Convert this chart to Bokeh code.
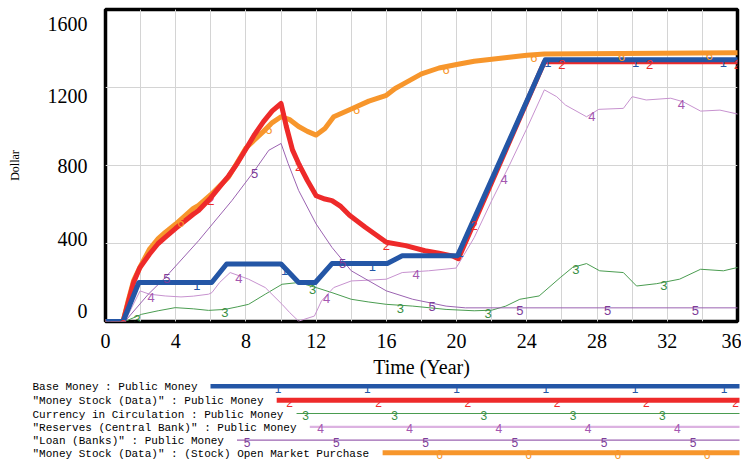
import numpy as np
from bokeh.plotting import figure
from bokeh.models import Range1d, FixedTicker
from bokeh.embed import file_html
from bokeh.resources import INLINE
from bokeh.core.properties import value

# ---------------- data ----------------
t_base = [0, 1.0, 1.9, 6.05, 6.9, 10.0, 11.0, 11.95, 12.9, 16.05, 16.9, 20.05, 25.05, 36]
base_money = [0, 0, 200, 200, 295, 295, 200, 200, 297, 297, 337, 337, 1342, 1342]

t_stock = [0, 1.0, 1.3, 1.6, 1.95, 2.5, 3.0, 3.4, 4.0, 5.0, 5.3, 6.0, 6.5, 7.0, 7.5, 8.0,
           8.5, 9.0, 9.5, 10.0, 10.3, 10.65, 11.0, 11.5, 12.0, 12.5, 12.9, 13.4, 13.9,
           14.8, 16.0, 17.1, 18.2, 19.0, 19.8, 20.1, 25.0, 36]
money_stock = [0, 0, 100, 200, 275, 345, 400, 431, 478, 550, 569, 635, 690, 745, 810, 885,
               960, 1025, 1080, 1118, 1000, 880, 810, 723, 645, 628, 620, 590, 545,
               483, 406, 389, 363, 350, 335, 322, 1332, 1332]

t_curr = [0, 1.1, 2.06, 3.0, 3.97, 5.0, 5.87, 6.8, 7.5, 8.15, 9.1, 10.06, 11.0, 12.0, 12.9,
          14.0, 15.0, 16.0, 17.5, 19.4, 21.0, 22.0, 22.8, 23.6, 24.7, 25.9, 26.6, 27.4,
          28.15, 29.5, 30.25, 31.4, 32.7, 33.9, 35.2, 36]
currency = [0, 0, 37, 55, 71, 65, 57, 62, 75, 88, 140, 191, 200, 174, 148,
            114, 100, 88, 79, 62, 55, 58, 79, 114, 131, 225, 277, 297,
            260, 251, 182, 194, 217, 268, 260, 277]

t_res = [0, 1.1, 1.97, 2.5, 3.4, 4.3, 5.0, 5.87, 6.06, 6.5, 7.1, 7.6, 8.15, 9.1, 10.06,
         10.5, 11.0, 11.9, 12.3, 13.0, 14.0, 15.0, 16.0, 16.9, 18.4, 19.97, 21.0, 22.0,
         23.0, 24.0, 25.0, 25.7, 26.2, 27.4, 28.1, 29.5, 30.0, 30.8, 32.2, 32.9, 33.9,
         35.0, 36]
reserves = [0, 0, 157, 140, 131, 126, 130, 140, 148, 200, 251, 235, 217, 174, 88,
            45, 2, 28, 105, 174, 208, 212, 217, 251, 260, 274, 430, 620,
            800, 990, 1188, 1153, 1110, 1050, 1088, 1093, 1153, 1136, 1145, 1127, 1079,
            1084, 1064]

t_loan = [0, 1.1, 2.44, 3.4, 5.3, 7.2, 8.5, 9.3, 10.0, 10.4, 11.0, 12.0, 12.9, 14.0,
          16.0, 17.5, 19.4, 20.5, 36]
loan = [0, 0, 140, 225, 414, 620, 775, 878, 913, 811, 672, 500, 380, 260,
        157, 114, 79, 70, 70]

t_omp = [0, 1.0, 1.3, 1.6, 2.0, 2.5, 3.0, 3.4, 4.0, 5.0, 5.3, 6.0, 7.0, 8.0, 9.0, 9.5,
         10.0, 10.5, 11.0, 11.5, 12.0, 12.5, 13.0, 14.0, 15.0, 16.0, 16.5, 17.0, 18.0,
         19.0, 20.0, 21.0, 22.0, 23.0, 24.0, 25.0, 36]
money_stock_omp = [0, 0, 110, 210, 285, 370, 425, 457, 500, 580, 595, 650, 740, 890, 975, 1020,
                   1050, 1035, 1000, 975, 956, 990, 1050, 1090, 1130, 1160, 1195, 1220, 1270,
                   1300, 1318, 1335, 1345, 1355, 1365, 1372, 1378]

legend_names = [
    'Base Money : Public Money',
    '"Money Stock (Data)" : Public Money',
    'Currency in Circulation : Public Money',
    '"Reserves (Central Bank)" : Public Money',
    '"Loan (Banks)" : Public Money',
    '"Money Stock (Data)" : (Stock) Open Market Purchase',
]
series_ids = ["1", "2", "3", "4", "5", "6"]
x_ticks = list(range(0, 37, 4))
x_minor = list(range(0, 37, 2))
y_ticks = [0, 400, 800, 1200, 1600]

# ---------------- styling ----------------
col_blue = "#2456a6"
col_red = "#ee2a2a"
col_green = "#4a9c50"
col_green_lbl = "#3a8f45"
col_p4 = "#c792cf"
col_p4_lbl = "#a457b0"
col_p4_leg = "#dcb2e1"
col_p5 = "#9b63b1"
col_p5_lbl = "#7d3d98"
col_orange = "#f7962c"

series = [
    dict(t=t_base, v=base_money, color=col_blue, lcolor=col_blue, w=5, legw=4.5,
         legcolor=col_blue, lt=[0.2, 5.2, 10.2, 15.2, 20.2, 25.2, 30.2, 35.2]),
    dict(t=t_stock, v=money_stock, color=col_red, lcolor=col_red, w=5, legw=5,
         legcolor=col_red, lt=[1.0, 6.0, 11.0, 16.0, 21.0, 26.0, 31.0, 36.0]),
    dict(t=t_curr, v=currency, color=col_green, lcolor=col_green_lbl, w=1, legw=1,
         legcolor=col_green, lt=[1.8, 6.8, 11.8, 16.8, 21.8, 26.8, 31.8]),
    dict(t=t_res, v=reserves, color=col_p4, lcolor=col_p4_lbl, w=1, legw=2.2,
         legcolor=col_p4_leg, lt=[2.6, 7.6, 12.6, 17.7, 22.7, 27.7, 32.8]),
    dict(t=t_loan, v=loan, color=col_p5, lcolor=col_p5_lbl, w=1, legw=1.2,
         legcolor=col_p5, lt=[3.5, 8.5, 13.5, 18.6, 23.6, 28.6, 33.6]),
    dict(t=t_omp, v=money_stock_omp, color=col_orange, lcolor=col_orange, w=5, legw=5,
         legcolor=col_orange, lt=[4.3, 9.3, 14.3, 19.4, 24.4, 29.4, 34.4]),
]

# ---------------- geometry ----------------
# observed canvas origin in the photographed window
PAGE_OX, PAGE_OY = 2, 0
FRAME_W, FRAME_H = 632, 312
B_LEFT, B_RIGHT, B_TOP = 105, 4, 9
TOTAL_H = 461
B_BOTTOM = TOTAL_H - FRAME_H - B_TOP
X0, X1, Y0, Y1 = 0, 36, 0, 1600
px_per_x = FRAME_W / (X1 - X0)
px_per_y = FRAME_H / (Y1 - Y0)
FL = PAGE_OX + B_LEFT
FB = PAGE_OY + B_TOP + FRAME_H


def page_x(px):
    return X0 + (px - FL) / px_per_x


def page_y(py):
    return Y0 + (FB - py) / px_per_y


p = figure(frame_width=FRAME_W, frame_height=FRAME_H,
           x_range=Range1d(X0, X1), y_range=Range1d(Y0, Y1),
           output_backend="svg", toolbar_location=None,
           min_border_left=B_LEFT, min_border_right=B_RIGHT,
           min_border_top=B_TOP, min_border_bottom=B_BOTTOM)
p.background_fill_color = "white"
p.border_fill_color = "white"
p.outline_line_color = "black"
p.outline_line_width = 3.5

# x axis
p.xaxis.ticker = FixedTicker(ticks=x_ticks, minor_ticks=x_minor)
p.xgrid.ticker = FixedTicker(ticks=x_ticks, minor_ticks=x_minor)
p.xgrid.grid_line_color = "#d4d4d4"
p.xgrid.minor_grid_line_color = "#d4d4d4"
p.xaxis.axis_label = "Time (Year)"
# y axis: labels shifted like the reference (end labels pulled inward)
label_shift_px = [-11, -5, 0, 8, 14]
y_label_pos = [v - s / px_per_y for v, s in zip(y_ticks, label_shift_px)]
p.yaxis.ticker = FixedTicker(ticks=y_label_pos)
p.yaxis.major_label_overrides = {pos: str(v) for pos, v in zip(y_label_pos, y_ticks)}
p.ygrid.ticker = FixedTicker(ticks=y_ticks)
p.ygrid.grid_line_color = "#d4d4d4"
p.yaxis.axis_label = "Dollar"

for ax in (p.xaxis, p.yaxis):
    ax.axis_line_color = None
    ax.major_tick_line_color = None
    ax.minor_tick_line_color = None
    ax.major_tick_out = 0
    ax.major_tick_in = 0
    ax.minor_tick_out = 0
    ax.major_label_text_font = "Liberation Serif"
    ax.major_label_text_font_size = "20px"
    ax.major_label_text_color = "black"
    ax.axis_label_text_font = "Liberation Serif"
    ax.axis_label_text_font_style = "normal"
    ax.axis_label_text_color = "black"
p.xaxis.major_label_standoff = 12
p.xaxis.axis_label_standoff = 5
p.xaxis.axis_label_text_font_size = "20px"
p.yaxis.major_label_standoff = 18
p.yaxis.axis_label_standoff = 23
p.yaxis.axis_label_text_font_size = "12px"

# lines: thin first, then thick (orange, red, blue on top)
for idx in [2, 3, 4, 5, 1, 0]:
    s = series[idx]
    p.line(s["t"], s["v"], line_color=s["color"], line_width=s["w"],
           line_join="round", line_cap="round")

# series number labels along the lines
for idx, s in enumerate(series):
    lt = np.array(s["lt"], dtype=float)
    lv = np.interp(lt, s["t"], s["v"])
    p.text(lt, lv, text=[series_ids[idx]] * len(lt), text_color=s["lcolor"],
           text_font=value("Liberation Sans"), text_font_size="13px",
           text_align="center", text_baseline="middle", y_offset=3)

# ---------------- legend below the plot (drawn unclipped, page-pixel layout) ----------------
row_y = [386.7, 400.7, 414.0, 427.3, 440.7, 453.3]
text_x = 34
char_w = 6.62
line_end = 741
marker_phase = [12.1, 23.4, 39.4, 54.4, 70.3, 84.2]
marker_step = 89.2

p.text([page_x(text_x)] * 6, [page_y(y) for y in row_y], text=legend_names,
       text_color="black", text_font=value("Liberation Mono"), text_font_size="11px",
       text_align="left", text_baseline="middle", level="overlay")

for i, s in enumerate(series):
    ly = row_y[i] - 1
    x0 = text_x + len(legend_names[i]) * char_w + 12.5
    p.line([page_x(x0), page_x(line_end)], [page_y(ly), page_y(ly)],
           line_color=s["legcolor"], line_width=s["legw"], level="overlay")
    xs = [marker_phase[i] + k * marker_step for k in range(10)]
    xs = [x for x in xs if x0 + 4 <= x <= line_end]
    p.text([page_x(x) for x in xs], [page_y(ly)] * len(xs), text=[series_ids[i]] * len(xs),
           text_color=s["lcolor"], text_font=value("Liberation Sans"), text_font_size="12px",
           text_align="center", text_baseline="middle", y_offset=2, level="overlay")

open("out.html", "w").write(file_html(p, INLINE))
